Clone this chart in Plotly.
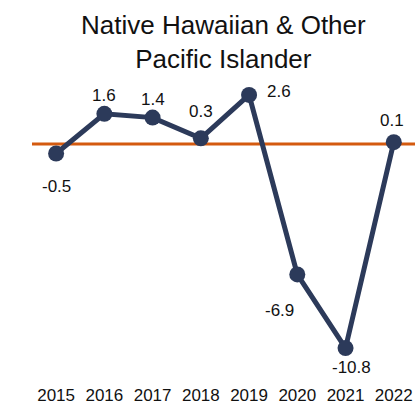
import plotly.graph_objects as go

years = [2015, 2016, 2017, 2018, 2019, 2020, 2021, 2022]
values = [-0.5, 1.6, 1.4, 0.3, 2.6, -6.9, -10.8, 0.1]
title_text = "Native Hawaiian & Other<br>Pacific Islander"

FONT = "Liberation Sans, Arial, sans-serif"
NAVY = "#2C3A5A"
ORANGE = "#D45A0F"

# label offsets in pixels (xshift, yshift) per point
offsets = [(0, -33), (0, 18), (0, 18), (0, 27), (30, 3), (-18, -36), (6, -19), (-2, 22)]

fig = go.Figure()
fig.add_shape(type="line", xref="paper", yref="y", x0=0, x1=1, y0=0, y1=0,
              line=dict(color=ORANGE, width=3), layer="below")
fig.add_trace(go.Scatter(x=years, y=values, mode="lines+markers",
                         line=dict(color=NAVY, width=5),
                         marker=dict(color=NAVY, size=16),
                         hoverinfo="skip"))
for (yr, v), (dx, dy) in zip(zip(years, values), offsets):
    fig.add_annotation(x=yr, y=v, text=f"{v:.1f}", showarrow=False,
                       xshift=dx, yshift=dy,
                       font=dict(family=FONT, size=17, color="#111111"))

fig.add_annotation(x=0.5, xref="paper", xanchor="center",
                   y=1.1254, yref="paper", yanchor="middle",
                   text=title_text, showarrow=False,
                   font=dict(family=FONT, size=26, color="#111111"))

fig.update_layout(
    width=415, height=405,
    margin=dict(l=32, r=0, t=80, b=22),
    paper_bgcolor="white", plot_bgcolor="white",
    showlegend=False,
    xaxis=dict(range=[2014.5, 2022.44], tickmode="array", tickvals=years,
               ticktext=[str(y) for y in years], showgrid=False, zeroline=False,
               showline=False, ticks="", tickfont=dict(family=FONT, size=17, color="#111111")),
    yaxis=dict(range=[-12.65, 3.39], visible=False, showgrid=False, zeroline=False),
)
fig.write_html("out.html", config={"displayModeBar": False},
               post_script="document.body.style.margin='0';")
